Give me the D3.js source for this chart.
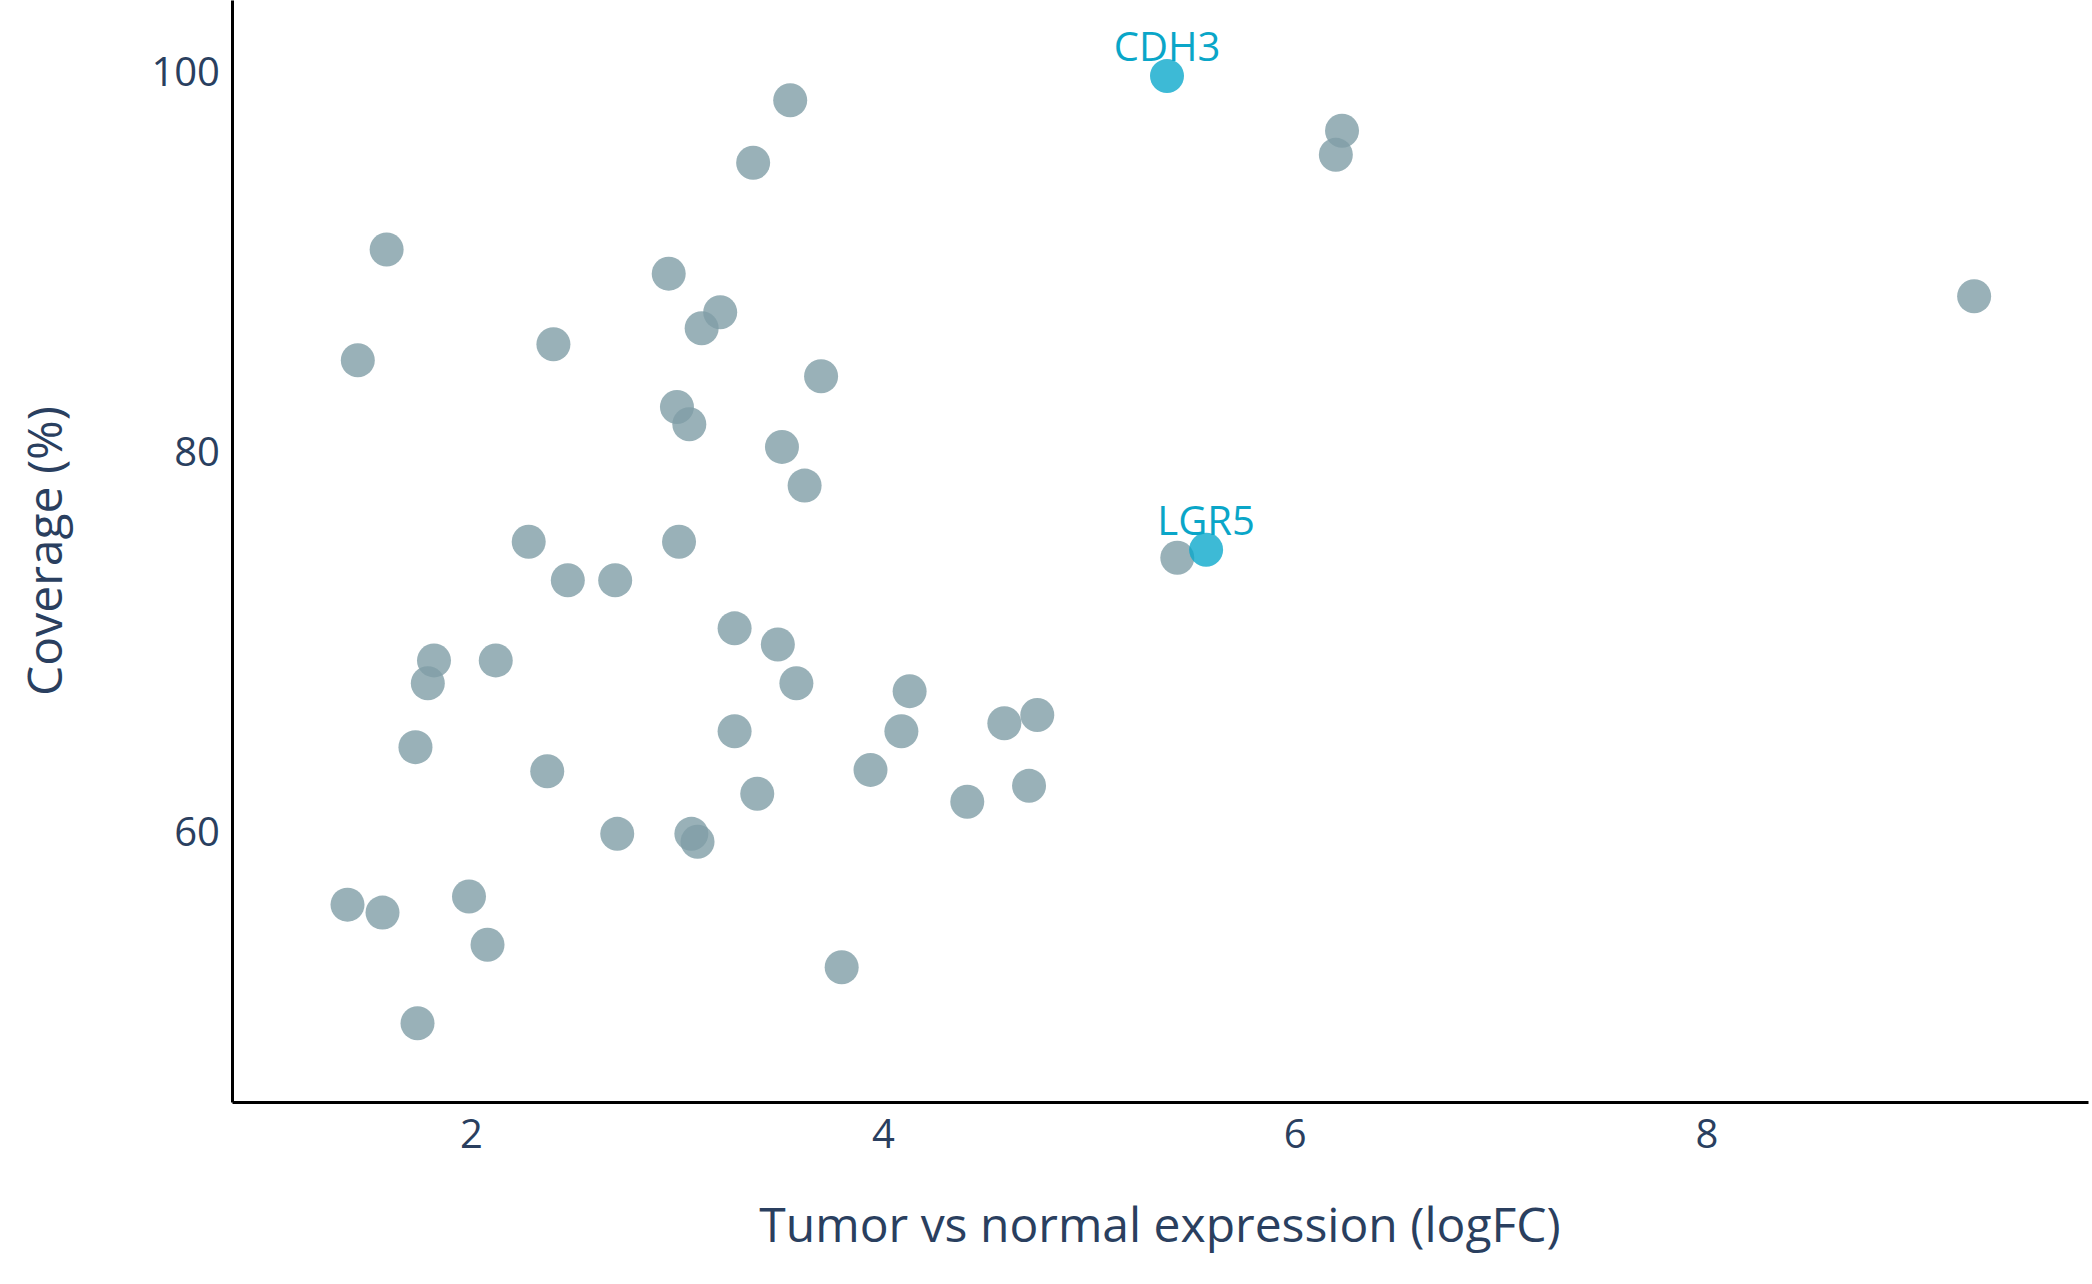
<!DOCTYPE html>
<html>
<head>
<meta charset="utf-8">
<script src="https://cdn.jsdelivr.net/npm/d3@7"></script>
<style>
  body { margin: 0; background: #fff; }
  text { font-family: "Open Sans", sans-serif; }
</style>
</head>
<body>
<div id="chart"></div>
<script>
// other genes (grey)
const logFC = [3.55, 3.37, 6.23, 6.20, 1.59, 2.96, 3.21, 3.12, 1.45, 2.40, 3.70, 9.30,
  3.00, 3.06, 3.51, 3.62, 2.28, 3.01, 2.47, 2.70, 5.43, 3.28, 3.49, 1.82,
  2.12, 1.79, 3.58, 4.13, 3.28, 4.09, 4.59, 4.75, 1.73, 2.37, 3.94, 3.39,
  4.41, 4.71, 2.71, 3.07, 3.10, 1.40, 1.57, 1.99, 2.08, 3.80, 1.74];
const coverage = [98.45, 95.15, 96.84, 95.57, 90.58, 89.31, 87.28, 86.43, 84.75, 85.59, 83.90, 88.12,
  82.28, 81.37, 80.18, 78.14, 75.18, 75.18, 73.15, 73.15, 74.34, 70.62, 69.77, 68.93,
  68.93, 67.73, 67.73, 67.31, 65.20, 65.20, 65.62, 66.05, 64.36, 63.09, 63.16, 61.90,
  61.48, 62.32, 59.79, 59.79, 59.37, 56.06, 55.64, 56.49, 53.95, 52.76, 49.81];

// highlighted genes
const highlightGenes = ["CDH3", "LGR5"];
const highlightLogFC = [5.38, 5.57];
const highlightCoverage = [99.72, 74.76];

const xTicks = [2, 4, 6, 8];
const yTicks = [60, 80, 100];

const width = 2092, height = 1284;
const margin = { top: 0, right: 4, bottom: 182, left: 232 };

const svg = d3.select("#chart").append("svg")
    .attr("width", width)
    .attr("height", height);

const x = d3.scaleLinear()
    .domain([0.839, 9.853])
    .range([margin.left, width - margin.right]);

const y = d3.scaleLinear()
    .domain([45.66, 103.73])
    .range([height - margin.bottom, margin.top]);

// x axis
const xAxis = svg.append("g")
    .attr("transform", "translate(0," + (height - margin.bottom) + ")")
    .call(d3.axisBottom(x).tickValues(xTicks).tickSize(0).tickPadding(18).tickSizeOuter(0));
xAxis.select(".domain").attr("stroke", "#000").attr("stroke-width", 3);
xAxis.selectAll("text").attr("fill", "#2a3f5f").style("font-size", "40px");

// y axis
const yAxis = svg.append("g")
    .attr("transform", "translate(" + margin.left + ",0)")
    .call(d3.axisLeft(y).tickValues(yTicks).tickSize(0).tickPadding(12).tickSizeOuter(0));
yAxis.select(".domain").attr("stroke", "#000").attr("stroke-width", 3);
yAxis.selectAll("text").attr("fill", "#2a3f5f").attr("dy", "0.38em").style("font-size", "40px");

// grey points
const pts = logFC.map((d, i) => ({ x: d, y: coverage[i] }));
svg.selectAll(".dot")
    .data(pts)
    .enter().append("circle")
    .attr("class", "dot")
    .attr("cx", d => x(d.x))
    .attr("cy", d => y(d.y))
    .attr("r", 17)
    .attr("fill", "#7f9ea6")
    .attr("fill-opacity", 0.8);

// highlighted points + labels
const hl = highlightGenes.map((g, i) => ({ gene: g, x: highlightLogFC[i], y: highlightCoverage[i] }));
svg.selectAll(".hl")
    .data(hl)
    .enter().append("circle")
    .attr("class", "hl")
    .attr("cx", d => x(d.x))
    .attr("cy", d => y(d.y))
    .attr("r", 17)
    .attr("fill", "#07a7ca")
    .attr("fill-opacity", 0.78);

svg.selectAll(".hl-label")
    .data(hl)
    .enter().append("text")
    .attr("class", "hl-label")
    .attr("x", d => x(d.x))
    .attr("y", d => y(d.y) - 15)
    .attr("text-anchor", "middle")
    .attr("fill", "#0aa6c8")
    .style("font-size", "40px")
    .text(d => d.gene);

// axis titles
svg.append("text")
    .attr("x", (margin.left + width - margin.right) / 2)
    .attr("y", 1242)
    .attr("text-anchor", "middle")
    .attr("fill", "#2a3f5f")
    .style("font-size", "48px")
    .text("Tumor vs normal expression (logFC)");

svg.append("text")
    .attr("transform", "translate(62," + ((height - margin.bottom) / 2) + ") rotate(-90)")
    .attr("text-anchor", "middle")
    .attr("fill", "#2a3f5f")
    .style("font-size", "48px")
    .text("Coverage (%)");
</script>
</body>
</html>
